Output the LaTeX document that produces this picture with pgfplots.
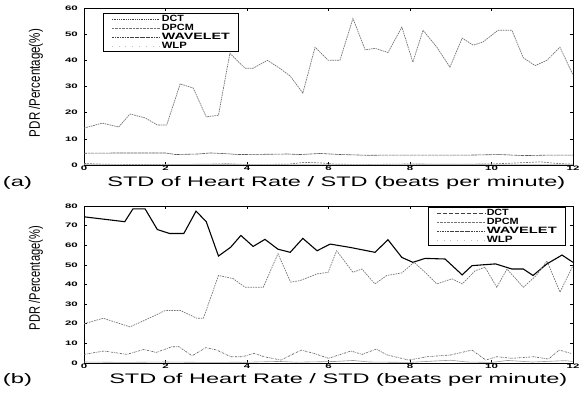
\documentclass[border=0pt]{standalone}
\usepackage{pgfplots}
\pgfplotsset{compat=1.18}
\usepackage{graphicx}
\usepackage{fontspec}
\setmainfont{Liberation Sans}
\pgfplotstableread{
x y
0 14.1
0.45 16
0.85 14.5
1.13 19.5
1.5 18
1.8 15.3
2.03 15.3
2.36 31
2.68 29.4
3.0 18.4
3.3 19
3.58 42.7
3.95 37
4.15 37
4.5 40
4.8 37
5.06 34
5.37 27.5
5.67 45
5.99 40
6.28 40
6.6 56
6.9 44
7.14 44.6
7.46 43
7.8 52.7
8.07 39.3
8.32 51.5
8.66 45
8.98 37.4
9.28 48.5
9.55 45.8
9.79 47
10.16 51.5
10.5 51.5
10.78 41
11.07 38
11.36 40
11.68 45
12 34.4
}\aDPCM
\pgfplotstableread{
x y
0 4.5
1 4.6
2 4.6
2.25 4.0
2.8 4.2
3.1 4.6
3.4 4.4
3.8 4.0
4.5 4.1
5 4.2
5.3 4.0
5.8 4.4
6.3 4.0
7 3.7
7.5 3.8
8.5 3.8
9.5 3.8
10.2 4.0
10.8 3.6
11.5 3.8
12 3.8
}\aDCT
\pgfplotstableread{
x y
0 0.6
0.5 0.3
1 0.2
2 0.2
3 0.3
3.5 0.5
4 0.2
5 0.3
5.4 1.0
5.8 0.8
6.2 0.3
7 0.2
8 0.4
9 0.3
10 0.4
10.8 0.9
11.2 1.2
11.6 0.6
12 0.3
}\aWAV
\pgfplotstableread{
x y
0 0.1
3 0.2
6 0.1
9 0.2
12 0.1
}\aWLP
\pgfplotstableread{
x y
0 74.5
0.6 73
1.0 72
1.2 78.5
1.5 78.5
1.8 68
2.1 66
2.45 66
2.75 77.4
3.0 72
3.3 54.5
3.6 59
3.85 65
4.15 59.4
4.44 63
4.76 58
5.06 56.4
5.37 63.5
5.72 57.2
6.04 60.6
6.53 58.9
7.14 56.4
7.46 62.8
7.8 53.8
8.07 51.3
8.37 53.3
8.86 53
9.28 44.9
9.52 49.6
9.77 50
10.1 50.5
10.5 47.9
10.78 47.9
11.02 44.6
11.36 50.5
11.73 55
12 51.3
}\bWAV
\pgfplotstableread{
x y
0 20
0.47 22.8
1.13 18.4
1.7 23.8
2.0 26.8
2.36 26.8
2.77 22.8
2.93 22.8
3.3 44.6
3.66 43
3.95 38.6
4.4 38.6
4.76 55.7
5.07 41.2
5.3 42
5.72 45.4
5.99 46.2
6.2 57.2
6.6 46.2
6.82 47.9
7.14 40.3
7.43 44.6
7.8 45.9
8.1 51.3
8.37 46.2
8.66 40.3
9.03 42.9
9.28 40.3
9.6 47
9.84 48.8
10.13 38.6
10.38 47.9
10.78 38.6
11.1 44.6
11.36 52
11.68 36.1
12 49.6
}\bDPCM
\pgfplotstableread{
x y
0 4.4
0.49 6.1
1.05 4.4
1.47 6.9
1.77 5.4
2.16 8.3
2.33 8.3
2.65 3.7
2.99 7.8
3.26 6.6
3.6 3.2
3.89 3.2
4.17 4.9
4.42 3.2
4.83 1.5
5.33 6.6
5.64 4.9
6.0 2.4
6.55 6.1
6.83 4.4
7.17 7.1
7.44 4.1
7.97 1.5
8.42 3.2
9.0 4.1
9.52 6.6
9.86 1.5
10.13 3.2
10.5 2.4
11.04 3.2
11.4 2.0
11.66 6.6
11.95 4.9
}\bDCT
\pgfplotstableread{
x y
0 0.5
1 0.3
2 0.5
3 0.3
4 0.4
4.8 0.8
5.2 0.4
6.2 0.8
6.6 1.3
7 0.5
8 0.3
8.6 1.0
9 1.4
9.4 0.5
10 0.3
10.4 1.3
11 0.5
11.8 1.2
12 0.8
}\bWLP
\pgfplotsset{
  pdrax/.style={
    scale only axis, width=489bp, height=157bp,
    xmin=0, xmax=12, ymin=0,
    xtick={0,2,...,12},
    tick align=inside, major tick length=3bp,
    axis line style={line width=0.8pt},
    every tick/.style={black, line width=0.6pt},
    xticklabel={\scalebox{1.15}[0.65]{\fontsize{10}{10}\selectfont\bfseries\pgfmathprintnumber[assume math mode=true]{\tick}}},
    yticklabel={\scalebox{1.15}[0.65]{\fontsize{10}{10}\selectfont\bfseries\pgfmathprintnumber[assume math mode=true]{\tick}}},
    xticklabel style={inner sep=1bp},
    yticklabel style={inner sep=1bp, xshift=-5bp},
    ylabel style={anchor=center},
    xlabel style={anchor=center},
    legend cell align=left,
    legend image code/.code={\draw[#1] (0bp,0bp) -- (48bp,0bp);},
    legend style={draw=black, line width=0.9pt, fill=white, inner xsep=8bp, inner ysep=1bp,
      nodes={inner sep=0.6bp, text height=6.3bp, text depth=1.5bp}, row sep=0pt, column sep=1bp},
  },
  lgDCT/.style={black!75, line width=0.7pt, dash pattern=on 1pt off 0.8pt},
  lgDPCM/.style={black!55, line width=0.7pt, dash pattern=on 0.8pt off 0.6pt},
  lgWAV/.style={black!75, line width=0.7pt, dash pattern=on 2.5pt off 0.8pt on 0.8pt off 0.8pt},
  lgWLP/.style={black!25, line width=0.7pt, dash pattern=on 0.8pt off 6pt},
}
\newcommand{\lgt}[2]{\resizebox{#1}{6.3bp}{\bfseries #2}}
\begin{document}
\begin{tikzpicture}
\useasboundingbox (0,0) rectangle (584bp,394bp);
% ---------- (a)
\begin{axis}[pdrax, at={(84bp,229bp)}, anchor=south west,
  ymax=60, ytick={0,10,...,60},
  xlabel={\resizebox{458bp}{10bp}{STD of Heart Rate / STD (beats per minute)}},
  xlabel style={at={(axis description cs:0.516,-0.112)}},
  ylabel={\resizebox{108bp}{11bp}{PDR /Percentage(\%)}},
  ylabel style={at={(axis description cs:-0.098,0.522)}},
  legend style={at={(axis description cs:0.039,0.968)}, anchor=north west},
]
\addlegendimage{lgDCT}\addlegendentry{\lgt{22bp}{DCT}}
\addlegendimage{lgDPCM}\addlegendentry{\lgt{32bp}{DPCM}}
\addlegendimage{lgWAV}\addlegendentry{\lgt{68bp}{WAVELET}}
\addlegendimage{lgWLP}\addlegendentry{\lgt{25bp}{WLP}}
\addplot[forget plot, black!55, line width=0.7pt, dash pattern=on 1.6pt off 0.8pt] table {\aDPCM};
\addplot[forget plot, black!65, line width=0.6pt, dash pattern=on 3pt off 0.6pt] table {\aDCT};
\addplot[forget plot, black!55, line width=0.6pt, dash pattern=on 2pt off 1pt] table {\aWAV};
\addplot[forget plot, black!30, line width=0.6pt] table {\aWLP};
\end{axis}
\node at (17.5bp,211bp) {\resizebox{29bp}{10bp}{(a)}};
% ---------- (b)
\begin{axis}[pdrax, at={(84bp,31bp)}, anchor=south west,
  ymax=80, ytick={0,10,...,80},
  xlabel={\resizebox{458bp}{10bp}{STD of Heart Rate / STD (beats per minute)}},
  xlabel style={at={(axis description cs:0.520,-0.108)}},
  ylabel={\resizebox{104bp}{11bp}{PDR /Percentage(\%)}},
  ylabel style={at={(axis description cs:-0.098,0.541)}},
  legend style={at={(axis description cs:0.7035,0.994)}, anchor=north west},
]
\addlegendimage{black!75, line width=0.7pt, dash pattern=on 4pt off 2pt}\addlegendentry{\lgt{22bp}{DCT}}
\addlegendimage{lgDPCM}\addlegendentry{\lgt{32bp}{DPCM}}
\addlegendimage{lgWAV}\addlegendentry{\lgt{70bp}{WAVELET}}
\addlegendimage{lgWLP}\addlegendentry{\lgt{26bp}{WLP}}
\addplot[forget plot, black, line width=1.1pt] table {\bWAV};
\addplot[forget plot, black!55, line width=0.7pt, dash pattern=on 1.6pt off 1pt] table {\bDPCM};
\addplot[forget plot, black!65, line width=0.6pt, dash pattern=on 2pt off 1pt on 0.6pt off 1pt] table {\bDCT};
\addplot[forget plot, black!40, line width=0.6pt] table {\bWLP};
\end{axis}
\node at (17.5bp,14bp) {\resizebox{29bp}{10bp}{(b)}};
\end{tikzpicture}
\end{document}
